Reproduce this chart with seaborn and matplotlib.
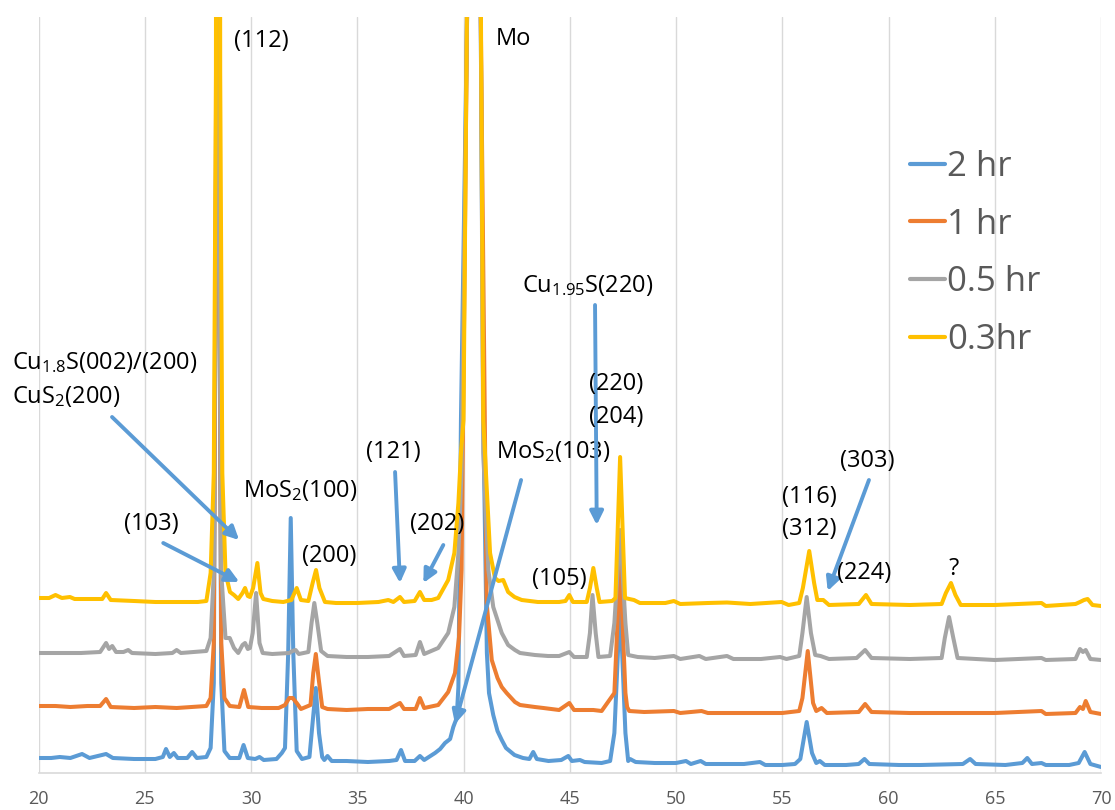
import matplotlib
matplotlib.use("Agg")
import matplotlib.pyplot as plt
from matplotlib.lines import Line2D
import seaborn as sns
import pandas as pd

# ---- XRD patterns (2-theta in degrees, intensity in a.u., stacked as displayed) ----
two_theta_2hr = [20.0, 20.6, 21.0, 21.5, 22.05, 22.4, 23.18, 23.5, 24.5, 25.5, 25.85, 26.0, 26.18, 26.37,
                 26.55, 27.0, 27.23, 27.45, 27.9, 28.1, 28.25, 28.35, 28.42, 28.49, 28.6, 28.75, 29.0,
                 29.45, 29.65, 29.85, 30.2, 30.4, 30.6, 31.2, 31.45, 31.6, 31.75, 31.87, 31.99, 32.15,
                 32.4, 32.75, 32.9, 33.05, 33.2, 33.35, 33.45, 33.6, 33.8, 34.5, 35.5, 36.5, 36.85,
                 37.06, 37.25, 37.7, 37.95, 38.15, 38.66, 38.9, 39.13, 39.37, 39.52, 39.68, 39.76,
                 39.88, 40.17, 40.49, 40.81, 40.93, 41.1, 41.2, 41.4, 41.6, 41.8, 42.0, 42.4, 42.8,
                 43.1, 43.28, 43.45, 44.0, 44.6, 44.93, 45.1, 45.48, 45.7, 46.5, 46.9, 47.1, 47.37,
                 47.62, 47.75, 47.84, 48.1, 49.0, 50.0, 50.47, 50.7, 51.16, 51.4, 52.5, 53.2, 53.95,
                 54.2, 55.0, 55.6, 55.85, 56.15, 56.4, 56.6, 56.77, 57.0, 58.0, 58.6, 58.87, 59.1,
                 60.5, 61.5, 63.5, 63.84, 64.1, 65.5, 66.3, 66.53, 66.75, 67.2, 67.4, 68.5, 68.95,
                 69.23, 69.5, 70.0]
counts_2hr = [15, 15, 16, 15, 19, 15, 19, 15, 14, 14, 16, 24, 16, 20,
              15, 15, 21, 15, 16, 25, 90, 600, 1500, 600, 90, 22, 15,
              15, 28, 15, 14, 16, 13, 14, 20, 25, 120, 255, 120, 22,
              14, 16, 50, 85, 40, 16, 13, 17, 12, 12, 11, 12, 13,
              23, 12, 12, 17, 13, 20, 24, 30, 34, 46, 55, 86,
              353, 760, 1800, 760, 353, 120, 80, 58, 42, 33, 25, 18, 15,
              14, 21, 14, 12, 13, 17, 12, 13, 11, 10, 12, 40, 170,
              40, 12, 14, 11, 10, 10, 12, 9, 12, 9, 9, 9, 11,
              8, 8, 9, 14, 51, 20, 10, 12, 8, 8, 9, 14, 9,
              8, 8, 9, 14, 9, 8, 10, 15, 9, 10, 8, 8, 10,
              21, 9, 6]

two_theta_1hr = [20.0, 20.8, 21.5, 22.3, 22.9, 23.18, 23.4, 24.5, 25.5, 26.5, 27.2, 27.9, 28.1, 28.25,
                 28.35, 28.42, 28.49, 28.6, 28.75, 29.0, 29.45, 29.67, 29.87, 30.5, 31.3, 31.6, 31.8,
                 31.96, 32.15, 32.35, 32.8, 32.93, 33.05, 33.18, 33.35, 33.6, 34.5, 35.5, 36.5, 37.01,
                 37.2, 37.75, 37.95, 38.15, 38.81, 39.28, 39.6, 39.79, 39.91, 40.17, 40.49, 40.81,
                 41.09, 41.33, 41.6, 41.8, 42.03, 42.42, 42.66, 43.36, 43.76, 44.5, 44.98, 45.2,
                 46.11, 46.5, 47.1, 47.37, 47.62, 47.7, 47.8, 48.5, 49.9, 50.2, 51.2, 51.5, 53.0,
                 55.0, 55.8, 55.95, 56.2, 56.45, 56.6, 56.85, 57.1, 58.6, 58.9, 59.2, 61.0, 63.0,
                 65.0, 67.2, 67.4, 68.8, 69.01, 69.15, 69.28, 69.5, 70.0]
counts_1hr = [67, 67, 66, 67, 67, 74, 66, 65, 66, 65, 66, 67, 75, 130,
              600, 1700, 600, 130, 75, 67, 66, 83, 66, 65, 65, 68, 75,
              75, 70, 64, 68, 100, 119, 95, 66, 64, 63, 64, 64, 70,
              64, 64, 75, 65, 68, 81, 100, 136, 203, 760, 1800, 760,
              170, 113, 95, 86, 80, 71, 68, 66, 65, 63, 70, 63,
              63, 62, 80, 210, 80, 66, 62, 61, 62, 60, 62, 60, 60,
              60, 62, 75, 122, 70, 62, 65, 60, 61, 69, 61, 60, 60,
              60, 62, 59, 60, 66, 64, 72, 61, 59]

two_theta_05hr = [20.0, 21.0, 22.0, 22.9, 23.18, 23.32, 23.47, 23.65, 24.0, 24.22, 24.4, 25.5, 26.3,
                  26.5, 26.7, 27.3, 27.9, 28.1, 28.25, 28.35, 28.42, 28.49, 28.6, 28.8, 29.0, 29.2,
                  29.4, 29.6, 29.72, 29.85, 29.95, 30.08, 30.24, 30.4, 30.55, 31.0, 31.8, 31.95,
                  32.1, 32.25, 32.7, 32.85, 32.98, 33.12, 33.3, 33.6, 34.5, 35.5, 36.5, 37.01, 37.2,
                  37.75, 37.95, 38.15, 38.81, 39.28, 39.57, 39.76, 39.91, 40.17, 40.49, 40.81, 40.93,
                  41.17, 41.4, 41.8, 42.1, 42.42, 42.66, 43.36, 43.98, 44.5, 44.98, 45.2, 45.8,
                  45.95, 46.07, 46.22, 46.35, 46.9, 47.1, 47.37, 47.62, 47.75, 48.2, 49.0, 49.9,
                  50.2, 51.1, 51.4, 52.4, 52.7, 54.0, 54.9, 55.2, 55.8, 55.95, 56.15, 56.35, 56.55,
                  56.8, 57.2, 58.5, 58.9, 59.2, 61.0, 62.5, 62.65, 62.85, 63.05, 63.25, 65.0, 67.2,
                  67.4, 68.8, 69.01, 69.15, 69.28, 69.5, 70.0]
counts_05hr = [120, 120, 120, 121, 130, 124, 127, 121, 121, 123, 120, 119, 120,
               123, 120, 121, 122, 135, 200, 600, 1600, 600, 200, 135, 135, 125,
               120, 128, 130, 124, 125, 140, 180, 130, 120, 119, 120, 122,
               123, 119, 121, 150, 170, 150, 122, 117, 116, 116, 117, 124, 117,
               118, 131, 119, 125, 140, 166, 220, 303, 760, 1800, 760, 320,
               203, 166, 140, 128, 123, 120, 118, 117, 117, 121, 116, 116,
               140, 178, 140, 116, 117, 150, 243, 150, 118, 116, 115, 117,
               114, 117, 114, 117, 114, 114, 116, 114, 117, 140, 176, 140, 118,
               117, 114, 115, 123, 115, 114, 115, 135, 156, 135, 115, 113, 115,
               113, 114, 124, 121, 123, 114, 113]

two_theta_03hr = [20.0, 20.5, 20.8, 21.1, 21.48, 21.7, 22.5, 23.0, 23.18, 23.4, 24.5, 25.5, 26.5,
                  27.5, 27.9, 28.1, 28.25, 28.35, 28.45, 28.55, 28.65, 28.8, 29.01, 29.2, 29.4,
                  29.6, 29.72, 29.85, 29.95, 30.1, 30.3, 30.45, 30.58, 31.0, 31.52, 31.9, 32.15,
                  32.35, 32.7, 32.9, 33.06, 33.22, 33.48, 34.0, 35.0, 36.0, 36.46, 36.7, 37.01,
                  37.2, 37.7, 37.95, 38.15, 38.5, 38.81, 39.28, 39.57, 39.76, 39.88, 40.0, 40.16,
                  40.49, 40.82, 40.93, 41.09, 41.25, 41.48, 41.65, 41.87, 42.1, 42.4, 42.74, 43.5,
                  44.5, 44.8, 44.98, 45.15, 45.8, 45.95, 46.11, 46.27, 46.4, 47.0, 47.15, 47.37,
                  47.6, 47.8, 48.02, 48.3, 49.5, 49.9, 50.2, 51.5, 52.4, 53.5, 54.97, 55.3, 55.8,
                  55.97, 56.27, 56.5, 56.65, 56.93, 57.2, 58.6, 58.94, 59.2, 61.0, 62.5, 62.7,
                  62.94, 63.15, 63.4, 65.0, 67.2, 67.4, 68.8, 69.01, 69.2, 69.37, 69.6, 70.0]
counts_03hr = [175, 175, 178, 175, 176, 174, 174, 174, 180, 173, 172, 171, 171,
               171, 172, 200, 300, 700, 3000, 700, 300, 200, 181, 178, 174,
               180, 185, 177, 176, 185, 210, 180, 174, 172, 171, 173, 185,
               173, 172, 190, 203, 185, 171, 170, 170, 171, 173, 171, 176,
               171, 172, 181, 173, 173, 175, 193, 220, 270, 320, 353, 760,
               2000, 760, 353, 286, 220, 195, 192, 193, 181, 176, 173, 171,
               171, 172, 178, 171, 171, 185, 205, 185, 171, 172, 175, 316,
               175, 174, 173, 170, 170, 172, 169, 170, 170.5, 169, 171, 168, 170,
               185, 222, 190, 173, 173, 168, 169, 178, 169, 168, 169, 180,
               190, 178, 168, 168, 170, 167, 169, 171, 173, 174, 168, 167]

series_labels = ["2 hr", "1 hr", "0.5 hr", "0.3hr"]
series_colors = ["#5B9BD5", "#ED7D31", "#A5A5A5", "#FFC000"]
x_ticks = [20, 25, 30, 35, 40, 45, 50, 55, 60, 65, 70]

frames = []
for label, xs, ys in zip(series_labels,
                         [two_theta_2hr, two_theta_1hr, two_theta_05hr, two_theta_03hr],
                         [counts_2hr, counts_1hr, counts_05hr, counts_03hr]):
    frames.append(pd.DataFrame({"two_theta": xs, "intensity": ys, "time": label}))
df = pd.concat(frames, ignore_index=True)

sns.set_theme(style="white")
plt.rcParams["font.family"] = ["Open Sans", "DejaVu Sans"]
plt.rcParams["mathtext.fontset"] = "custom"
plt.rcParams["mathtext.rm"] = "Open Sans"
plt.rcParams["mathtext.it"] = "Open Sans:italic"
plt.rcParams["mathtext.bf"] = "Open Sans:bold"

W, H = 1115, 810
fig = plt.figure(figsize=(W / 100, H / 100), dpi=100)
ax = fig.add_axes([38.5 / W, 37 / H, (1101 - 38.5) / W, 756 / H])

sns.lineplot(data=df, x="two_theta", y="intensity", hue="time",
             hue_order=series_labels, palette=series_colors,
             estimator=None, sort=False, linewidth=2.9, legend=False, ax=ax)

ax.set_xlim(20, 70)
ax.set_ylim(0, 756)
ax.set_xticks(x_ticks)
ax.set_xticklabels([str(t) for t in x_ticks])
ax.set_yticks([])
ax.set_xlabel("")
ax.set_ylabel("")
ax.tick_params(axis="x", length=0, pad=12, labelsize=13, labelcolor="#595959")
for t in x_ticks:
    ax.axvline(t, color="#D9D9D9", lw=1.0, zorder=0)
for side in ["left", "right", "top"]:
    ax.spines[side].set_visible(False)
ax.spines["bottom"].set_color("#D9D9D9")
ax.spines["bottom"].set_linewidth(1.2)

handles = [Line2D([0], [0], color=c, lw=3) for c in series_colors]
ax.legend(handles, series_labels, loc="upper left", bbox_to_anchor=(910 / W, 1 - 150 / H),
          bbox_transform=fig.transFigure, frameon=False, fontsize=25,
          labelcolor="#595959", handlelength=1.0, handletextpad=0.06,
          labelspacing=0.68, borderpad=0, borderaxespad=0)

arrow_kw = dict(arrowstyle="-|>", color="#5B9BD5", lw=2.8, mutation_scale=20,
                shrinkA=0, shrinkB=0)
txt_kw = dict(fontsize=17, color="black", va="baseline", ha="left")

# phase / reflection labels
ax.text(18.75, 404, r"Cu$_\mathregular{1.8}$S(002)/(200)", clip_on=False, **txt_kw)
ax.text(18.75, 370, r"CuS$_\mathregular{2}$(200)", clip_on=False, **txt_kw)
ax.annotate("", xy=(29.44, 233), xytext=(23.46, 356), arrowprops=arrow_kw)

ax.text(24.02, 243, "(103)", **txt_kw)
ax.annotate("", xy=(29.45, 191), xytext=(25.87, 230), arrowprops=arrow_kw)

ax.text(29.62, 276, r"MoS$_\mathregular{2}$(100)", **txt_kw)
ax.text(32.4, 211, "(200)", **txt_kw)

ax.text(35.41, 315, "(121)", **txt_kw)
ax.annotate("", xy=(37.01, 190), xytext=(36.78, 301), arrowprops=arrow_kw)

ax.text(37.48, 243, "(202)", **txt_kw)
ax.annotate("", xy=(38.11, 190), xytext=(39.05, 228), arrowprops=arrow_kw)

ax.text(41.53, 315, r"MoS$_\mathregular{2}$(103)", **txt_kw)
ax.annotate("", xy=(39.6, 49), xytext=(42.71, 293), arrowprops=arrow_kw)

ax.text(42.75, 481, r"Cu$_\mathregular{1.95}$S(220)", **txt_kw)
ax.annotate("", xy=(46.27, 248), xytext=(46.19, 468), arrowprops=arrow_kw)

ax.text(45.91, 383, "(220)", **txt_kw)
ax.text(45.91, 350, "(204)", **txt_kw)
ax.text(43.22, 188, "(105)", **txt_kw)

ax.text(54.99, 270, "(116)", **txt_kw)
ax.text(54.99, 238, "(312)", **txt_kw)
ax.text(57.72, 306, "(303)", **txt_kw)
ax.annotate("", xy=(57.14, 182), xytext=(59.08, 293), arrowprops=arrow_kw)
ax.text(57.58, 194, "(224)", **txt_kw)
ax.text(63.08, 198, "?", fontsize=17, color="black", va="baseline", ha="center")

ax.text(29.2, 726, "(112)", **txt_kw)
ax.text(41.53, 728, "Mo", **txt_kw)

fig.savefig("out.png", dpi=100)
